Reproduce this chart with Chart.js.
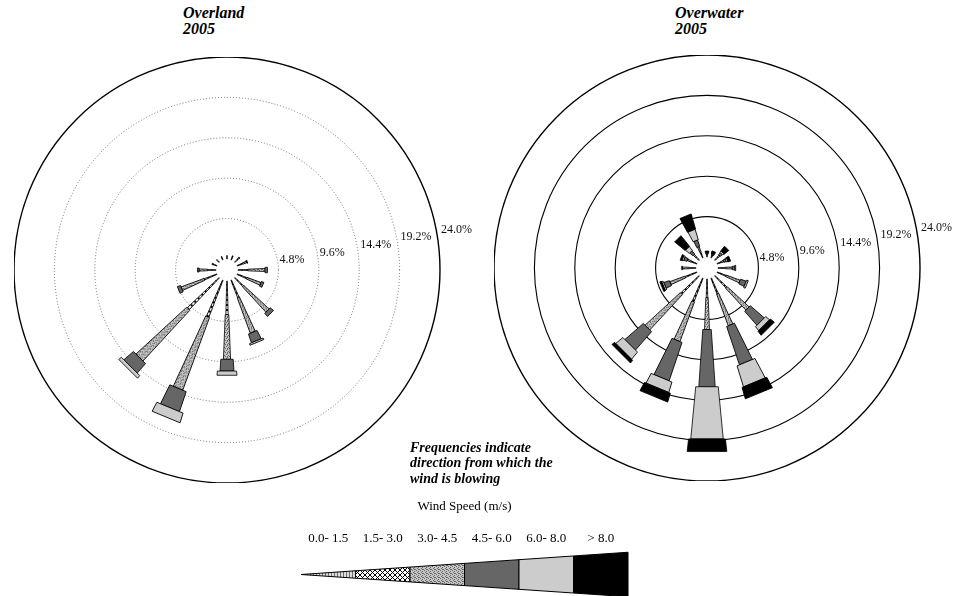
<!DOCTYPE html>
<html>
<head>
<meta charset="utf-8">
<script src="https://cdn.jsdelivr.net/npm/chart.js@4.4.1/dist/chart.umd.min.js"></script>
<style>
  html, body { margin: 0; padding: 0; background: #fff; }
  body { width: 956px; height: 596px; position: relative; overflow: hidden; font-family: 'Liberation Serif', 'Times New Roman', serif; }
  .box { position: absolute; }
  .title { position: absolute; font: italic bold 16px/16px 'Liberation Serif', serif; color: #000; white-space: nowrap; }
  .note { position: absolute; left: 410px; top: 439.5px; font: italic bold 14px/15.5px 'Liberation Serif', serif; color: #000; white-space: nowrap; }
</style>
</head>
<body>
<div class="title" style="left:183px;top:5px">Overland<br>2005</div>
<div class="title" style="left:675px;top:5px">Overwater<br>2005</div>
<div class="box" style="left:14px;top:57px;width:476px;height:426px"><canvas id="land"></canvas></div>
<div class="box" style="left:494px;top:55px;width:462px;height:426px"><canvas id="water"></canvas></div>
<div class="box" style="left:280px;top:490px;width:370px;height:112.4px"><canvas id="key"></canvas></div>
<div class="note">Frequencies indicate<br>direction from which the<br>wind is blowing</div>

<script>
// Compass sectors, speed classes and ring values
const directions = ['N','NNE','NE','ENE','E','ESE','SE','SSE','S','SSW','SW','WSW','W','WNW','NW','NNW'];
const speedClasses = ['0.0- 1.5','1.5- 3.0','3.0- 4.5','4.5- 6.0','6.0- 8.0','> 8.0'];
const ringTicks = [4.8, 9.6, 14.4, 19.2, 24.0];

// Overland 2005 — frequency (%) per direction, one array per speed class
const land_0_15  = [0.3,0.3,0.3,0.3,0.3,0.3,0.3,0.3,0.4,0.5,0.5,0.4,0.3,0.3,0.3,0.3];
const land_15_30 = [0.1,0.2,0.3,0.4,0.9,0.9,1.1,1.9,3.6,4.2,4.7,1.2,0.7,0.2,0.1,0.1];
const land_30_45 = [0,0,0.2,0.5,2.0,1.8,4.1,4.5,5.3,9.2,8.2,2.9,1.0,0.1,0,0];
const land_45_60 = [0,0,0,0.1,0.3,0.3,0.5,1.1,1.4,2.5,1.5,0.4,0.2,0,0,0];
const land_60_80 = [0,0,0,0,0,0,0,0.2,0.5,1.2,0.4,0,0,0,0,0];
const land_80up  = [0,0,0,0,0,0,0,0,0,0,0,0,0,0,0,0];

// Overwater 2005
const water_0_15  = [0.1,0.1,0.2,0.2,0.3,0.3,0.3,0.3,0.3,0.3,0.3,0.3,0.3,0.3,0.2,0.3];
const water_15_30 = [0.1,0.1,0.3,0.3,0.5,0.8,1.7,1.7,1.9,2.7,2.7,1.2,0.5,0.4,0.3,0.4];
const water_30_45 = [0.1,0.1,0.3,0.3,0.9,1.8,3.5,4.0,3.8,5.0,5.7,1.9,0.8,0.5,0.4,0.7];
const water_45_60 = [0.1,0.1,0.3,0.3,0.3,0.7,2.2,4.8,6.8,4.8,2.9,0.7,0.1,0.4,0.5,0.8];
const water_60_80 = [0.1,0.1,0.2,0.2,0.1,0.2,0.6,2.6,6.2,1.3,1.1,0.2,0,0.2,0.6,1.3];
const water_80up  = [0.2,0.3,0.7,0.3,0,0,0.6,1.4,1.5,1.1,0.4,0.2,0,0.2,1.6,1.85];

const SERIF = "'Liberation Serif', 'Times New Roman', serif";
const HOLE = 1.307;           // empty centre, in % units
const TAPER = [0.010, 0.026, 0.040, 0.069, 0.095, 0.108];  // half-width / radius per class
const KEY_SLOPE = 0.068;

// Fill textures
function tile(w, h, bg, fg, pts) {
  const c = document.createElement('canvas');
  c.width = w; c.height = h;
  const g = c.getContext('2d');
  g.fillStyle = bg; g.fillRect(0, 0, w, h);
  g.fillStyle = fg;
  pts.forEach(([x, y]) => g.fillRect(x, y, 1, 1));
  return g.createPattern(c, 'repeat');
}
const FILLS = [
  tile(3, 1, '#dcdcdc', '#6e6e6e', [[0,0]]),
  tile(5, 5, '#ffffff', '#000000', [[0,0],[1,1],[2,2],[3,3],[4,4],[4,0],[3,1],[1,3],[0,4]]),
  tile(4, 4, '#c6c6c6', '#666666', [[0,0],[2,1],[1,2],[3,3],[2,3]]),
  '#666666',
  '#cccccc',
  '#000000'
];

function rosePlugin(ringStyles) {
  return {
    id: 'roseBars',
    beforeDatasetsDraw(chart) {
      const sc = chart.scales.r, ctx = chart.ctx;
      ringTicks.forEach((v, i) => {
        const st = ringStyles[i];
        ctx.save();
        ctx.beginPath();
        ctx.arc(sc.xCenter, sc.yCenter, sc.getDistanceFromCenterForValue(v), 0, Math.PI * 2);
        ctx.strokeStyle = st.color;
        ctx.lineWidth = st.width;
        ctx.setLineDash(st.dash || []);
        ctx.stroke();
        ctx.restore();
      });
    },
    afterDatasetsDraw(chart) {
      const sc = chart.scales.r, ctx = chart.ctx;
      const cx = sc.xCenter, cy = sc.yCenter;
      chart.data.labels.forEach((lab, i) => {
        const ang = sc.getIndexAngle(i) - Math.PI / 2;
        let cum = 0;
        chart.data.datasets.forEach((ds, k) => {
          const v = ds.data[i];
          if (!v) return;
          const r0 = sc.getDistanceFromCenterForValue(cum);
          cum += v;
          const r1 = sc.getDistanceFromCenterForValue(cum);
          const h0 = Math.max(r0 * TAPER[k], 0.3);
          const h1 = Math.max(r1 * TAPER[k], 0.3);
          ctx.save();
          ctx.translate(cx, cy);
          ctx.rotate(ang);
          ctx.beginPath();
          ctx.moveTo(r0, -h0);
          ctx.lineTo(r1, -h1);
          ctx.lineTo(r1, h1);
          ctx.lineTo(r0, h0);
          ctx.closePath();
          ctx.fillStyle = FILLS[k];
          ctx.fill();
          ctx.strokeStyle = '#000';
          ctx.lineWidth = 0.8;
          ctx.stroke();
          ctx.restore();
        });
      });
      // ring value labels
      ctx.save();
      ctx.font = '12px ' + SERIF;
      ctx.fillStyle = '#111';
      ctx.textAlign = 'left';
      ctx.textBaseline = 'middle';
      ringTicks.forEach(v => {
        const r = sc.getDistanceFromCenterForValue(v);
        ctx.fillText(v.toFixed(1) + '%', cx + r + 1, cy - 0.19 * r);
      });
      ctx.restore();
    }
  };
}

function rose(id, series, ringStyles, padRight) {
  return new Chart(document.getElementById(id), {
    type: 'radar',
    data: {
      labels: directions,
      datasets: series.map((d, k) => ({
        label: speedClasses[k], data: d,
        showLine: false, pointRadius: 0, pointHoverRadius: 0,
        borderWidth: 0, backgroundColor: 'rgba(0,0,0,0)', fill: false
      }))
    },
    options: {
      responsive: true, maintainAspectRatio: false, animation: false, events: [],
      layout: { padding: { left: 0, right: padRight, top: 0, bottom: 0 } },
      plugins: { legend: { display: false }, tooltip: { enabled: false } },
      scales: {
        r: {
          min: -HOLE, max: 24, startAngle: 0,
          grid: { display: false },
          angleLines: { display: false },
          pointLabels: { display: false },
          ticks: { display: false }
        }
      }
    },
    plugins: [rosePlugin(ringStyles)]
  });
}

const dotted = { color: '#6f6f6f', width: 1, dash: [1, 2] };
const outer = { color: '#000', width: 1.4, dash: [] };
const solid = { color: '#000', width: 1.1, dash: [] };

rose('land',
  [land_0_15, land_15_30, land_30_45, land_45_60, land_60_80, land_80up],
  [dotted, dotted, dotted, dotted, outer], 50);

rose('water',
  [water_0_15, water_15_30, water_30_45, water_45_60, water_60_80, water_80up],
  [solid, solid, solid, solid, outer], 36);

// Speed-class key: a widening wedge split into the six classes
const keyWedge = {
  id: 'keyWedge',
  afterDatasetsDraw(chart) {
    const xs = chart.scales.x, ys = chart.scales.y, ctx = chart.ctx;
    const n = chart.data.labels.length;
    const left = xs.left, step = (xs.right - xs.left) / n;
    const cy = ys.getPixelForValue(0);
    for (let k = 0; k < n; k++) {
      const x0 = left + k * step, x1 = x0 + step;
      const h0 = (x0 - left) * KEY_SLOPE, h1 = (x1 - left) * KEY_SLOPE;
      ctx.save();
      ctx.beginPath();
      ctx.moveTo(x0, cy - h0);
      ctx.lineTo(x1, cy - h1);
      ctx.lineTo(x1, cy + h1);
      ctx.lineTo(x0, cy + h0);
      ctx.closePath();
      ctx.fillStyle = FILLS[k];
      ctx.fill();
      ctx.strokeStyle = '#000';
      ctx.lineWidth = 1;
      ctx.stroke();
      ctx.restore();
    }
  }
};

new Chart(document.getElementById('key'), {
  type: 'bar',
  data: { labels: speedClasses, datasets: [] },
  options: {
    responsive: true, maintainAspectRatio: false, animation: false, events: [],
    layout: { padding: { left: 21, right: 22, top: 9, bottom: 0 } },
    plugins: { legend: { display: false }, tooltip: { enabled: false } },
    scales: {
      x: {
        position: 'top', offset: true,
        grid: { display: false, drawTicks: false },
        border: { display: false },
        ticks: { color: '#000', font: { family: SERIF, size: 13 }, padding: 0, autoSkip: false, maxRotation: 0 },
        title: { display: true, text: 'Wind Speed (m/s)', color: '#000', font: { family: SERIF, size: 13 }, padding: { top: 0, bottom: 16.4 } }
      },
      y: { display: false, min: -1, max: 1 }
    }
  },
  plugins: [keyWedge]
});
</script>
</body>
</html>
